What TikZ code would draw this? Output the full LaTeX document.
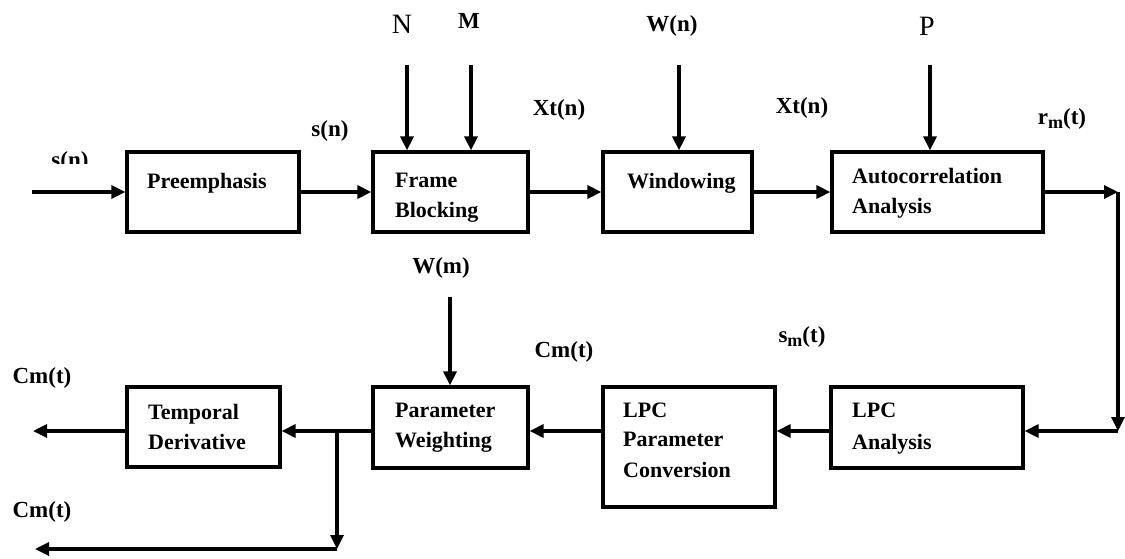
\documentclass[tikz,border=0pt]{standalone}
\usepackage{fontspec}
\setmainfont{Liberation Serif}
\usetikzlibrary{arrows.meta}
\newcommand{\subm}{\raisebox{-4pt}{\fontsize{18}{18}\selectfont m}}
\begin{document}
\begin{tikzpicture}[x=1pt,y=-1pt,
  blk/.style={draw, line width=3.2pt, inner sep=0pt},
  lbl/.style={font=\fontsize{23}{23}\selectfont\bfseries, inner sep=0pt, anchor=base},
  big/.style={font=\fontsize{28}{28}\selectfont, inner sep=0pt, anchor=base},
  btxt/.style={font=\fontsize{22}{30}\selectfont\bfseries, inner sep=0pt, anchor=base west},
  arr/.style={line width=3.2pt, -{Triangle[length=14pt,width=13pt]}},
  ln/.style={line width=3.2pt}]
\fill[white] (0,0) rectangle (1125,558);
\useasboundingbox (0,0) rectangle (1125,558);

% blocks
\node[blk, minimum width=172pt, minimum height=80pt] (pre)   at (213,192) {};
\node[blk, minimum width=155pt, minimum height=80pt] (frame) at (450.5,192) {};
\node[blk, minimum width=149pt, minimum height=80pt] (win)   at (677.5,192) {};
\node[blk, minimum width=211pt, minimum height=80pt] (auto)  at (937.5,192) {};
\node[blk, minimum width=153pt, minimum height=80pt] (temp)  at (203.5,427) {};
\node[blk, minimum width=155pt, minimum height=81pt] (pw)    at (450.5,427.5) {};
\node[blk, minimum width=172pt, minimum height=120pt] (conv) at (689,447) {};
\node[blk, minimum width=192pt, minimum height=81pt] (lpca)  at (927,427.5) {};

% block texts
\node[btxt] (tpre)  at (147,188) {Preemphasis};
\node[btxt] (tfr1)  at (395,187) {Frame};
\node[btxt] (tfr2)  at (395,217) {Blocking};
\node[btxt] (twin)  at (627,188) {Windowing};
\node[btxt] (tau1)  at (852,183) {Autocorrelation};
\node[btxt] (tau2)  at (852,213) {Analysis};
\node[btxt] (tte1)  at (148,419) {Temporal};
\node[btxt] (tte2)  at (148,449) {Derivative};
\node[btxt] (tpw1)  at (395,417) {Parameter};
\node[btxt] (tpw2)  at (395,447) {Weighting};
\node[btxt] (tcv1)  at (623,417) {LPC};
\node[btxt] (tcv2)  at (623,446) {Parameter};
\node[btxt] (tcv3)  at (623,477) {Conversion};
\node[btxt] (tla1)  at (852,417) {LPC};
\node[btxt] (tla2)  at (852,449) {Analysis};

% signal labels
\begin{scope}
\clip (0,0) rectangle (125,163);
\node[lbl] (lsn1) at (70,167) {s(n)};
\end{scope}
\node[lbl] (lsn2) at (330,136) {s(n)};
\node[big] (lN)   at (402,33) {N};
\node[lbl] (lM)   at (469,28) {M};
\node[lbl] (lxt1) at (559,115) {Xt(n)};
\node[lbl] (lwn)  at (672,31) {W(n)};
\node[lbl] (lxt2) at (802,113) {Xt(n)};
\node[big] (lP)   at (927,35) {P};
\node[lbl] (lrm)  at (1062,124) {r\subm(t)};
\node[lbl] (lwm)  at (441,273) {W(m)};
\node[lbl] (lcm)  at (564,357) {Cm(t)};
\node[lbl] (lsm)  at (802,342) {s\subm(t)};
\node[lbl] (lcm1) at (42,383) {Cm(t)};
\node[lbl] (lcm2) at (42,517) {Cm(t)};

% free ends and bends
\coordinate (in)     at (32,192);
\coordinate (rc1)    at (1118,192);
\coordinate (rc2)    at (1118,431);
\coordinate (branch) at (337,431);
\coordinate (bend)   at (337,549);
\coordinate (out1)   at (33,431);
\coordinate (out2)   at (35,549);
\coordinate (Nt)     at (407,65);
\coordinate (Mt)     at (471,65);
\coordinate (Wnt)    at (679,65);
\coordinate (Pt)     at (930,65);
\coordinate (Wmt)    at (450,297);

% top row connectors
\draw[arr] (in) -- (pre.west);
\draw[arr] (pre.east) -- (frame.west);
\draw[arr] (frame.east) -- (win.west);
\draw[arr] (win.east) -- (auto.west);
\draw[arr] (auto.east) -- (rc1);
\draw[arr] (rc1) -- (rc2);
\draw[arr] (rc2) -- (lpca.east |- rc2);

% vertical inputs
\draw[arr] (Nt) -- (frame.north -| Nt);
\draw[arr] (Mt) -- (frame.north -| Mt);
\draw[arr] (Wnt) -- (win.north -| Wnt);
\draw[arr] (Pt) -- (auto.north -| Pt);
\draw[arr] (Wmt) -- (pw.north -| Wmt);

% bottom row connectors
\draw[arr] (lpca.west |- rc2) -- (conv.east |- rc2);
\draw[arr] (conv.west |- rc2) -- (pw.east |- rc2);
\draw[ln]  (pw.west |- rc2) -- (branch);
\draw[arr] (branch) -- (temp.east |- rc2);
\draw[arr] (temp.west |- rc2) -- (out1);
\draw[arr] (branch) -- (bend);
\draw[arr] (bend) -- (out2);
\end{tikzpicture}
\end{document}
